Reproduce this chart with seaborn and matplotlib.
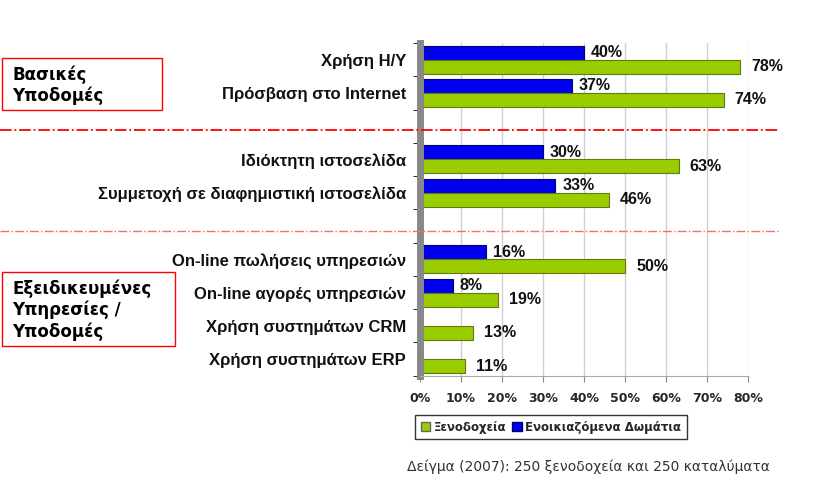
import matplotlib
matplotlib.use("Agg")
from matplotlib import pyplot as plt
from matplotlib.patches import Rectangle, Patch
import numpy as np
import pandas as pd
import seaborn as sns

# categories (blank ones are the empty separator slots)
categories = ["Χρήση Η/Υ", "Πρόσβαση στο Internet", "",
              "Ιδιόκτητη ιστοσελίδα", "Συμμετοχή σε διαφημιστική ιστοσελίδα", " ",
              "On-line πωλήσεις υπηρεσιών", "On-line αγορές υπηρεσιών",
              "Χρήση συστημάτων CRM", "Χρήση συστημάτων ERP"]
hotels = [78, 74, np.nan, 63, 46, np.nan, 50, 19, 13, 11]
rooms = [40, 37, np.nan, 30, 33, np.nan, 16, 8, np.nan, np.nan]
xticks = [0, 10, 20, 30, 40, 50, 60, 70, 80]

s_hotels = "Ξενοδοχεία"
s_rooms = "Ενοικιαζόμενα Δωμάτια"
green = "#9ACD00"
blue = "#0000EE"

df = pd.DataFrame({
    "cat": categories * 2,
    "val": hotels + rooms,
    "series": [s_hotels] * len(categories) + [s_rooms] * len(categories),
})

sns.set_style("white")
plt.rcParams['font.family'] = ['Liberation Sans', 'DejaVu Sans']

fig = plt.figure(figsize=(8.17, 4.83), dpi=100)
ax = fig.add_axes([0.514, 0.222, 0.402, 0.689])

sns.barplot(data=df, y="cat", x="val", hue="series", order=categories,
            hue_order=[s_rooms, s_hotels], palette=[blue, green],
            orient="h", width=0.84, dodge=True, legend=False, ax=ax,
            linewidth=0.8, saturation=1)
for bar in ax.containers[0]:
    bar.set_edgecolor("#000080")
for bar in ax.containers[1]:
    bar.set_edgecolor("#5F7A10")

for i, cont in enumerate(ax.containers):
    labels = ["" if np.isnan(v) else f"{v:.0f}%" for v in cont.datavalues]
    ax.bar_label(cont, labels=labels, padding=8 if i == 1 else 5,
                 fontsize=11.5, fontweight="bold", color="#111111")

ax.set_xlim(0, 80)
ax.set_xticks(xticks)
ax.set_xticklabels([f"{t}%" for t in xticks], fontsize=9, fontweight="bold",
                   family="DejaVu Sans")
ax.set_yticks(range(len(categories)))
ax.set_yticklabels(categories, fontsize=12, fontweight="bold", color="#111111")
ax.set_yticks(np.arange(-0.5, len(categories), 1), minor=True)
ax.tick_params(axis="y", which="minor", length=5, color="black", left=True)
ax.tick_params(axis="y", which="major", length=0, pad=10)
ax.tick_params(axis="x", length=4, bottom=True, color="#888888", pad=8)
ax.set_xlabel("")
ax.set_ylabel("")
ax.grid(axis="x", color="#D0D0D0", linewidth=1)
ax.set_axisbelow(True)
for side in ["top", "right"]:
    ax.spines[side].set_visible(False)
ax.spines["left"].set_color("#888888")
ax.spines["left"].set_linewidth(5)
ax.spines["bottom"].set_color("#AAAAAA")

# separators
fig.add_artist(plt.Line2D([0, 0.955], [1 - 130 / 483] * 2, color="red",
                          linestyle="-.", linewidth=1.3))
fig.add_artist(plt.Line2D([0, 0.955], [1 - 231 / 483] * 2, color="#F07070",
                          linestyle="-.", linewidth=1.0))

# group boxes
fig.add_artist(Rectangle((2 / 817, 1 - 110 / 483), 160 / 817, 52 / 483,
                         fill=False, edgecolor="red", linewidth=1))
fig.text(12 / 817, 1 - 85 / 483, "Βασικές\nΥποδομές", fontsize=12,
         fontweight="bold", family="DejaVu Sans", color="black",
         va="center", ha="left", linespacing=1.2)
fig.add_artist(Rectangle((2 / 817, 1 - 346 / 483), 173 / 817, 74 / 483,
                         fill=False, edgecolor="red", linewidth=1))
fig.text(12 / 817, 1 - 310 / 483, "Εξειδικευμένες\nΥπηρεσίες /\nΥποδομές",
         fontsize=12, fontweight="bold", family="DejaVu Sans", color="black",
         va="center", ha="left", linespacing=1.2)

handles = [Patch(facecolor=green, edgecolor="#666666"),
           Patch(facecolor=blue, edgecolor="#000066")]
leg = fig.legend(handles, [s_hotels, s_rooms], loc="center",
                 bbox_to_anchor=(551 / 817, 1 - 427 / 483), ncol=2,
                 frameon=True, fancybox=False, edgecolor="black",
                 handlelength=0.8, handleheight=0.8, handletextpad=0.3,
                 columnspacing=0.5, borderpad=0.5,
                 prop={"family": "DejaVu Sans", "weight": "bold", "size": 8.5})
leg.get_frame().set_linewidth(1)

fig.text(407 / 817, 1 - 467 / 483, "Δείγμα (2007): 250 ξενοδοχεία και 250 καταλύματα",
         fontsize=10, family="DejaVu Sans", color="#333333", va="center")

fig.savefig("out.png", dpi=100)
